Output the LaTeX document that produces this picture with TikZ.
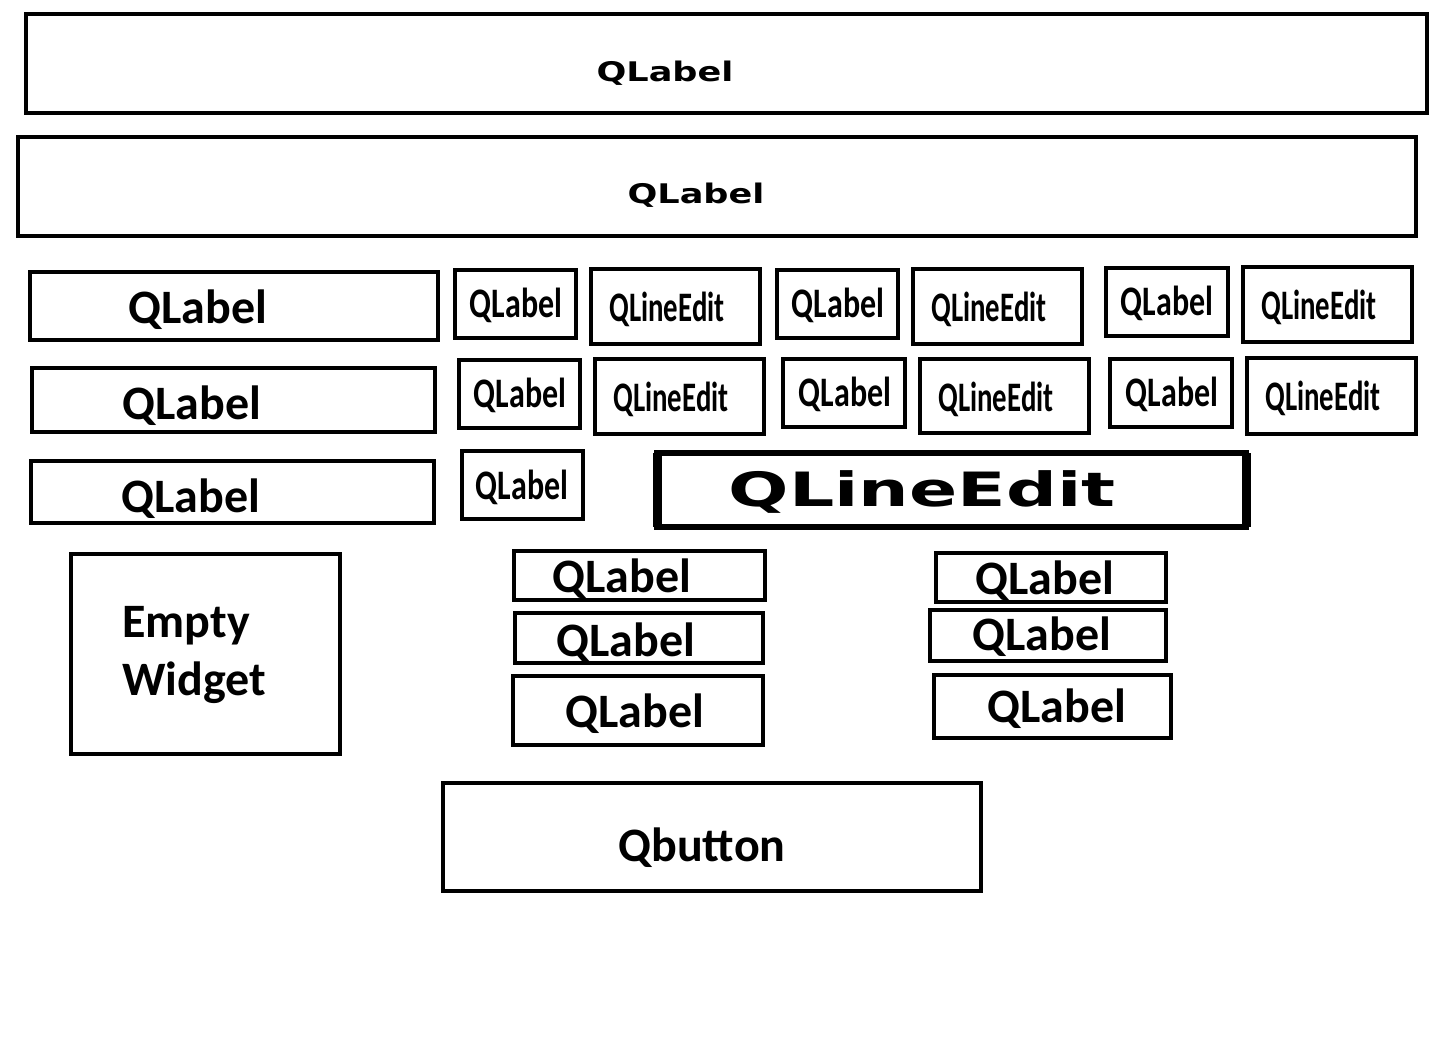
\documentclass[tikz,border=0pt]{standalone}
\usepackage{fontspec}
\setmainfont{Carlito}
\newfontfamily\vfont{DejaVu Sans}

% stretched and condensed label texts
\newcommand{\widetxt}[1]{\scalebox{1.3}[1]{\vfont\bfseries\fontsize{13.5}{13.5}\selectfont #1}}
\newcommand{\thintxt}[2]{\scalebox{#1}[1.05]{\bfseries\fontsize{20}{20}\selectfont #2}}
\newcommand{\bigedit}[1]{\scalebox{1.58}[1.05]{\vfont\bfseries\fontsize{22.5}{22.5}\selectfont #1}}

\begin{document}
\begin{tikzpicture}[x=0.5pt, y=-0.5pt,
    frame/.style={line width=2pt},
    lbl/.style={inner sep=0pt, font=\bfseries\fontsize{24}{29}\selectfont}]
    \useasboundingbox (0,0) rectangle (1453,1057);

    % Top labels
    \draw[frame] (26,14) rectangle (1427,113);
    \node[inner sep=0pt] (title) at (665,73) {\widetxt{QLabel}};
    \draw[frame] (18,137) rectangle (1416,236);
    \node[inner sep=0pt] (subtitle) at (696,195) {\widetxt{QLabel}};

    % Row 1
    \draw[frame] (30,272) rectangle (438,340);
    \node[lbl] (rowA) at (198,310) {QLabel};
    \draw[frame] (455,270) rectangle (576,338);
    \node[inner sep=0pt] (labA1) at (516,305) {\thintxt{0.8}{QLabel}};
    \draw[frame] (591,269) rectangle (760,344);
    \node[inner sep=0pt] (editA1) at (667,309) {\thintxt{0.72}{QLineEdit}};
    \draw[frame] (777,270) rectangle (898,338);
    \node[inner sep=0pt] (labA2) at (838,305) {\thintxt{0.8}{QLabel}};
    \draw[frame] (913,269) rectangle (1082,344);
    \node[inner sep=0pt] (editA2) at (989,309) {\thintxt{0.72}{QLineEdit}};
    \draw[frame] (1106,268) rectangle (1228,336);
    \node[inner sep=0pt] (labA3) at (1167,303) {\thintxt{0.8}{QLabel}};
    \draw[frame] (1243,267) rectangle (1412,342);
    \node[inner sep=0pt] (editA3) at (1319,307) {\thintxt{0.72}{QLineEdit}};

    % Row 2
    \draw[frame] (32,368) rectangle (435,432);
    \node[lbl] (rowB) at (192,406) {QLabel};
    \draw[frame] (459,360) rectangle (580,428);
    \node[inner sep=0pt] (labB1) at (520,395) {\thintxt{0.8}{QLabel}};
    \draw[frame] (595,359) rectangle (764,434);
    \node[inner sep=0pt] (editB1) at (671,399) {\thintxt{0.72}{QLineEdit}};
    \draw[frame] (783,359) rectangle (905,427);
    \node[inner sep=0pt] (labB2) at (845,394) {\thintxt{0.8}{QLabel}};
    \draw[frame] (920,359) rectangle (1089,433);
    \node[inner sep=0pt] (editB2) at (996,399) {\thintxt{0.72}{QLineEdit}};
    \draw[frame] (1110,359) rectangle (1232,427);
    \node[inner sep=0pt] (labB3) at (1172,394) {\thintxt{0.8}{QLabel}};
    \draw[frame] (1247,358) rectangle (1416,434);
    \node[inner sep=0pt] (editB3) at (1323,398) {\thintxt{0.72}{QLineEdit}};

    % Row 3
    \draw[frame] (31,461) rectangle (434,523);
    \node[lbl] (rowC) at (191,499) {QLabel};
    \draw[frame] (462,451) rectangle (583,519);
    \node[inner sep=0pt] (labC1) at (522,487) {\thintxt{0.8}{QLabel}};
    \draw[line width=3pt] (657,453) rectangle (1246,527);
    \draw[line width=4.5pt] (657,453) -- (657,527) (1246,453) -- (1246,527);
    \node[inner sep=0pt] (editC) at (922,492) {\bigedit{QLineEdit}};

    % Empty widget
    \draw[frame] (71,554) rectangle (340,754);
    \node[lbl, anchor=west, align=left] (empty) at (122,655) {Empty\\Widget};

    % Label columns
    \draw[frame] (514,551) rectangle (765,600);
    \node[lbl] (midA) at (622,579) {QLabel};
    \draw[frame] (515,613) rectangle (763,663);
    \node[lbl] (midB) at (626,643) {QLabel};
    \draw[frame] (513,676) rectangle (763,745);
    \node[lbl] (midC) at (635,714) {QLabel};

    \draw[frame] (936,553) rectangle (1166,602);
    \node[lbl] (rightA) at (1045,581) {QLabel};
    \draw[frame] (930,610) rectangle (1166,661);
    \node[lbl] (rightB) at (1042,637) {QLabel};
    \draw[frame] (934,675) rectangle (1171,738);
    \node[lbl] (rightC) at (1057,709) {QLabel};

    % Button
    \draw[frame] (443,783) rectangle (981,891);
    \node[lbl] (button) at (702,848) {Qbutton};
\end{tikzpicture}
\end{document}
